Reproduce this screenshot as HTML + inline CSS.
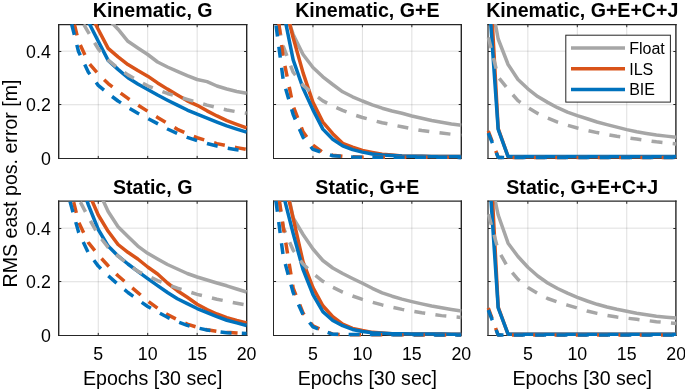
<!DOCTYPE html><html><head><meta charset="utf-8"><style>html,body{margin:0;padding:0;background:#fff;overflow:hidden}svg{display:block}</style></head><body>
<svg width="685" height="391" viewBox="0 0 685 391">
<rect width="685" height="391" fill="#fff"/>
<defs>
<clipPath id="cp00"><rect x="55.7" y="24.0" width="193.9" height="137.9"/></clipPath>
<clipPath id="cp01"><rect x="270.4" y="24.0" width="193.9" height="137.9"/></clipPath>
<clipPath id="cp02"><rect x="485.3" y="24.0" width="193.9" height="137.9"/></clipPath>
<clipPath id="cp10"><rect x="55.7" y="201.0" width="193.9" height="137.9"/></clipPath>
<clipPath id="cp11"><rect x="270.4" y="201.0" width="193.9" height="137.9"/></clipPath>
<clipPath id="cp12"><rect x="485.3" y="201.0" width="193.9" height="137.9"/></clipPath>
</defs>
<path d="M98.26 24.40V158.30M147.71 24.40V158.30M197.15 24.40V158.30" stroke="#262626" stroke-opacity="0.15" stroke-width="1" fill="none"/>
<path d="M58.70 104.74H246.60M58.70 51.18H246.60" stroke="#262626" stroke-opacity="0.15" stroke-width="1" fill="none"/>
<path d="M98.26 158.50v-2.6M98.26 24.60v2.6M147.71 158.50v-2.6M147.71 24.60v2.6M197.15 158.50v-2.6M197.15 24.60v2.6M58.70 104.50h2.6M246.70 104.50h-2.6M58.70 51.50h2.6M246.70 51.50h-2.6" stroke="#262626" stroke-width="1" fill="none"/>
<path d="M58.7 23.950000000000003V159.0" stroke="#262626" stroke-width="1.4" fill="none"/>
<path d="M246.7 23.950000000000003V159.0" stroke="#262626" stroke-width="1.4" fill="none"/>
<path d="M58.0 24.6H247.39999999999998" stroke="#262626" stroke-width="1.3" fill="none"/>
<path d="M58.0 158.5H247.39999999999998" stroke="#262626" stroke-width="1.0" fill="none"/>
<g clip-path="url(#cp00)" fill="none" stroke-width="3.5" stroke-linejoin="round">
<path d="M58.70 -300.00 L68.59 -250.00 L78.48 -200.00 L88.37 -150.00 L98.26 -100.00 L108.15 18.90 L118.04 29.20 L127.93 41.30 L137.82 48.00 L147.71 54.50 L157.59 62.00 L167.48 67.00 L177.37 71.40 L187.26 75.60 L197.15 79.50 L207.04 81.60 L216.93 86.00 L226.82 89.00 L236.71 91.50 L246.60 93.30" stroke="#A6A6A6"/>
<path d="M58.70 -290.02 L68.59 -290.02 L78.48 -290.02 L88.37 9.98 L98.26 29.43 L108.15 48.39 L118.04 56.91 L127.93 64.53 L137.82 70.55 L147.71 76.15 L157.59 82.93 L167.48 89.12 L177.37 94.98 L187.26 100.86 L197.15 105.31 L207.04 110.83 L216.93 115.95 L226.82 120.68 L236.71 124.33 L246.60 127.90" stroke="#D95319"/>
<path d="M58.70 -278.23 L68.59 -278.23 L78.48 -278.23 L88.37 21.77 L98.26 41.33 L108.15 60.40 L118.04 69.33 L127.93 77.77 L137.82 84.01 L147.71 89.46 L157.59 95.06 L167.48 100.22 L177.37 105.13 L187.26 110.04 L197.15 114.22 L207.04 118.13 L216.93 122.03 L226.82 125.93 L236.71 129.09 L246.60 132.20" stroke="#0072BD"/>
<path d="M58.70 -284.53 L68.59 -284.53 L78.48 15.47 L88.37 32.38 L98.26 48.86 L108.15 60.05 L118.04 68.15 L127.93 74.87 L137.82 80.41 L147.71 85.80 L157.59 89.65 L167.48 93.49 L177.37 96.44 L187.26 99.38 L197.15 102.26 L207.04 105.15 L216.93 107.59 L226.82 109.94 L236.71 111.75 L246.60 113.30" stroke="#A6A6A6" stroke-dasharray="11.0 10.3" stroke-dashoffset="20.37"/>
<path d="M58.70 -299.37 L68.59 0.63 L78.48 41.09 L88.37 62.52 L98.26 74.00 L108.15 83.55 L118.04 91.20 L127.93 98.45 L137.82 104.93 L147.71 111.27 L157.59 117.46 L167.48 123.43 L177.37 129.30 L187.26 133.70 L197.15 137.73 L207.04 140.75 L216.93 143.63 L226.82 145.73 L236.71 147.63 L246.60 149.50" stroke="#D95319" stroke-dasharray="11.0 10.3" stroke-dashoffset="15.94"/>
<path d="M58.70 -288.03 L68.59 11.97 L78.48 51.49 L88.37 72.24 L98.26 85.35 L108.15 93.56 L118.04 101.01 L127.93 107.33 L137.82 113.23 L147.71 118.39 L157.59 123.64 L167.48 129.01 L177.37 133.51 L187.26 137.35 L197.15 140.65 L207.04 143.55 L216.93 146.03 L226.82 148.09 L236.71 149.80 L246.60 151.00" stroke="#0072BD" stroke-dasharray="11.0 10.3" stroke-dashoffset="6.66"/>
</g>
<path d="M312.96 24.40V158.30M362.41 24.40V158.30M411.85 24.40V158.30" stroke="#262626" stroke-opacity="0.15" stroke-width="1" fill="none"/>
<path d="M273.40 104.74H461.30M273.40 51.18H461.30" stroke="#262626" stroke-opacity="0.15" stroke-width="1" fill="none"/>
<path d="M312.96 158.50v-2.6M312.96 24.60v2.6M362.41 158.50v-2.6M362.41 24.60v2.6M411.85 158.50v-2.6M411.85 24.60v2.6M273.50 104.50h2.6M461.30 104.50h-2.6M273.50 51.50h2.6M461.30 51.50h-2.6" stroke="#262626" stroke-width="1" fill="none"/>
<path d="M273.5 23.950000000000003V159.0" stroke="#262626" stroke-width="1.0" fill="none"/>
<path d="M461.3 23.950000000000003V159.0" stroke="#262626" stroke-width="1.4" fill="none"/>
<path d="M273.0 24.6H462.0" stroke="#262626" stroke-width="1.3" fill="none"/>
<path d="M273.0 158.5H462.0" stroke="#262626" stroke-width="1.0" fill="none"/>
<g clip-path="url(#cp01)" fill="none" stroke-width="3.5" stroke-linejoin="round">
<path d="M273.40 -300.00 L283.29 5.30 L293.18 34.40 L303.07 54.50 L312.96 67.50 L322.85 76.80 L332.74 84.50 L342.63 91.80 L352.52 96.80 L362.41 101.00 L372.29 104.80 L382.18 108.20 L392.07 111.00 L401.96 113.30 L411.85 116.00 L421.74 118.30 L431.63 120.50 L441.52 122.30 L451.41 124.00 L461.30 125.30" stroke="#A6A6A6"/>
<path d="M273.40 -301.35 L283.29 -1.35 L293.18 37.77 L303.07 72.88 L312.96 102.38 L322.85 122.10 L332.74 133.71 L342.63 143.35 L352.52 147.23 L362.41 150.51 L372.29 152.42 L382.18 154.12 L392.07 155.11 L401.96 155.94 L411.85 156.14 L421.74 156.33 L431.63 156.51 L441.52 156.54 L451.41 156.57 L461.30 156.60" stroke="#D95319"/>
<path d="M273.40 -289.00 L283.29 11.00 L293.18 59.90 L303.07 88.27 L312.96 109.87 L322.85 129.11 L332.74 139.29 L342.63 145.92 L352.52 149.65 L362.41 152.12 L372.29 153.91 L382.18 154.93 L392.07 155.52 L401.96 156.03 L411.85 156.20 L421.74 156.36 L431.63 156.51 L441.52 156.54 L451.41 156.57 L461.30 156.60" stroke="#0072BD"/>
<path d="M273.40 1.86 L283.29 46.44 L293.18 72.28 L303.07 85.34 L312.96 93.50 L322.85 100.83 L332.74 106.00 L342.63 110.44 L352.52 114.27 L362.41 117.49 L372.29 120.21 L382.18 122.74 L392.07 124.76 L401.96 126.79 L411.85 128.69 L421.74 130.57 L431.63 131.89 L441.52 133.04 L451.41 134.24 L461.30 135.47" stroke="#A6A6A6" stroke-dasharray="11.0 10.3" stroke-dashoffset="19.06"/>
<path d="M273.40 -19.38 L283.29 57.93 L293.18 106.10 L303.07 131.91 L312.96 145.21 L322.85 152.47 L332.74 155.25 L342.63 156.26 L352.52 156.83 L362.41 157.21 L372.29 157.23 L382.18 157.25 L392.07 157.26 L401.96 157.28 L411.85 157.30 L421.74 157.32 L431.63 157.34 L441.52 157.36 L451.41 157.38 L461.30 157.40" stroke="#D95319" stroke-dasharray="11.0 10.3" stroke-dashoffset="20.39"/>
<path d="M273.40 5.40 L283.29 80.56 L293.18 114.58 L303.07 137.30 L312.96 149.45 L322.85 152.58 L332.74 155.72 L342.63 156.40 L352.52 157.03 L362.41 157.21 L372.29 157.23 L382.18 157.25 L392.07 157.27 L401.96 157.29 L411.85 157.31 L421.74 157.33 L431.63 157.34 L441.52 157.36 L451.41 157.38 L461.30 157.40" stroke="#0072BD" stroke-dasharray="11.0 10.3" stroke-dashoffset="0.91"/>
</g>
<path d="M527.86 24.40V158.30M577.31 24.40V158.30M626.75 24.40V158.30" stroke="#262626" stroke-opacity="0.15" stroke-width="1" fill="none"/>
<path d="M488.30 104.74H676.20M488.30 51.18H676.20" stroke="#262626" stroke-opacity="0.15" stroke-width="1" fill="none"/>
<path d="M527.86 158.50v-2.6M527.86 24.60v2.6M577.31 158.50v-2.6M577.31 24.60v2.6M626.75 158.50v-2.6M626.75 24.60v2.6M488.00 104.50h2.6M675.90 104.50h-2.6M488.00 51.50h2.6M675.90 51.50h-2.6" stroke="#262626" stroke-width="1" fill="none"/>
<path d="M488.0 23.950000000000003V159.0" stroke="#262626" stroke-width="1.2" fill="none"/>
<path d="M675.9 23.950000000000003V159.0" stroke="#262626" stroke-width="1.4" fill="none"/>
<path d="M487.4 24.6H676.6" stroke="#262626" stroke-width="1.3" fill="none"/>
<path d="M487.4 158.5H676.6" stroke="#262626" stroke-width="1.0" fill="none"/>
<g clip-path="url(#cp02)" fill="none" stroke-width="3.5" stroke-linejoin="round">
<path d="M488.30 -13.50 L498.19 39.00 L508.08 64.50 L517.97 79.50 L527.86 88.83 L537.75 96.53 L547.64 102.37 L557.53 107.71 L567.42 112.04 L577.31 115.54 L587.19 118.75 L597.08 122.00 L606.97 124.65 L616.86 127.14 L626.75 129.61 L636.64 131.82 L646.53 133.46 L656.42 134.98 L666.31 136.13 L676.20 137.28" stroke="#A6A6A6"/>
<path d="M488.30 -49.00 L498.19 128.50 L508.08 156.70 L517.97 156.70 L527.86 156.70 L537.75 156.70 L547.64 156.70 L557.53 156.70 L567.42 156.70 L577.31 156.70 L587.19 156.70 L597.08 156.70 L606.97 156.70 L616.86 156.70 L626.75 156.70 L636.64 156.70 L646.53 156.70 L656.42 156.70 L666.31 156.70 L676.20 156.70" stroke="#D95319"/>
<path d="M488.30 -11.30 L498.19 129.50 L508.08 156.60 L517.97 156.60 L527.86 156.60 L537.75 156.60 L547.64 156.60 L557.53 156.60 L567.42 156.60 L577.31 156.60 L587.19 156.60 L597.08 156.60 L606.97 156.60 L616.86 156.60 L626.75 156.60 L636.64 156.60 L646.53 156.60 L656.42 156.60 L666.31 156.60 L676.20 156.60" stroke="#0072BD"/>
<path d="M488.30 37.00 L498.19 77.00 L508.08 89.26 L517.97 100.65 L527.86 107.59 L537.75 113.45 L547.64 118.15 L557.53 122.10 L567.42 125.23 L577.31 128.03 L587.19 130.38 L597.08 132.59 L606.97 134.49 L616.86 136.29 L626.75 137.69 L636.64 139.09 L646.53 140.47 L656.42 141.85 L666.31 142.93 L676.20 143.98" stroke="#A6A6A6" stroke-dasharray="11.0 10.3" stroke-dashoffset="20.99"/>
<path d="M488.30 131.00 L498.19 157.40 L508.08 157.40 L517.97 157.40 L527.86 157.40 L537.75 157.40 L547.64 157.40 L557.53 157.40 L567.42 157.40 L577.31 157.40 L587.19 157.40 L597.08 157.40 L606.97 157.40 L616.86 157.40 L626.75 157.40 L636.64 157.40 L646.53 157.40 L656.42 157.40 L666.31 157.40 L676.20 157.40" stroke="#D95319" stroke-dasharray="11.0 10.3" stroke-dashoffset="0"/>
<path d="M488.30 133.00 L498.19 157.40 L508.08 157.40 L517.97 157.40 L527.86 157.40 L537.75 157.40 L547.64 157.40 L557.53 157.40 L567.42 157.40 L577.31 157.40 L587.19 157.40 L597.08 157.40 L606.97 157.40 L616.86 157.40 L626.75 157.40 L636.64 157.40 L646.53 157.40 L656.42 157.40 L666.31 157.40 L676.20 157.40" stroke="#0072BD" stroke-dasharray="11.0 10.3" stroke-dashoffset="0"/>
</g>
<path d="M98.26 201.40V335.30M147.71 201.40V335.30M197.15 201.40V335.30" stroke="#262626" stroke-opacity="0.15" stroke-width="1" fill="none"/>
<path d="M58.70 281.74H246.60M58.70 228.18H246.60" stroke="#262626" stroke-opacity="0.15" stroke-width="1" fill="none"/>
<path d="M98.26 335.50v-2.6M98.26 201.20v2.6M147.71 335.50v-2.6M147.71 201.20v2.6M197.15 335.50v-2.6M197.15 201.20v2.6M58.70 281.50h2.6M246.70 281.50h-2.6M58.70 228.50h2.6M246.70 228.50h-2.6" stroke="#262626" stroke-width="1" fill="none"/>
<path d="M58.7 200.54999999999998V336.0" stroke="#262626" stroke-width="1.4" fill="none"/>
<path d="M246.7 200.54999999999998V336.0" stroke="#262626" stroke-width="1.4" fill="none"/>
<path d="M58.0 201.2H247.39999999999998" stroke="#262626" stroke-width="1.3" fill="none"/>
<path d="M58.0 335.5H247.39999999999998" stroke="#262626" stroke-width="1.0" fill="none"/>
<g clip-path="url(#cp10)" fill="none" stroke-width="3.5" stroke-linejoin="round">
<path d="M58.70 -300.00 L68.59 -250.00 L78.48 -200.00 L88.37 -150.00 L98.26 190.00 L108.15 211.50 L118.04 226.80 L127.93 236.60 L137.82 246.10 L147.71 253.30 L157.59 259.00 L167.48 264.50 L177.37 269.00 L187.26 273.50 L197.15 277.00 L207.04 280.00 L216.93 283.00 L226.82 285.80 L236.71 289.00 L246.60 292.00" stroke="#A6A6A6"/>
<path d="M58.70 -300.00 L68.59 -250.00 L78.48 -200.00 L88.37 192.40 L98.26 215.00 L108.15 231.30 L118.04 244.50 L127.93 252.30 L137.82 259.00 L147.71 267.00 L157.59 274.00 L167.48 283.00 L177.37 290.70 L187.26 297.30 L197.15 304.30 L207.04 309.50 L216.93 314.00 L226.82 317.60 L236.71 320.50 L246.60 322.90" stroke="#D95319"/>
<path d="M58.70 -124.51 L68.59 -124.51 L78.48 175.49 L88.37 204.87 L98.26 229.51 L108.15 246.05 L118.04 255.94 L127.93 263.99 L137.82 271.38 L147.71 278.57 L157.59 285.59 L167.48 292.46 L177.37 298.73 L187.26 303.65 L197.15 308.53 L207.04 312.57 L216.93 316.61 L226.82 320.25 L236.71 322.87 L246.60 325.50" stroke="#0072BD"/>
<path d="M58.70 -101.50 L68.59 -101.50 L78.48 198.50 L88.37 217.33 L98.26 234.81 L108.15 247.36 L118.04 256.13 L127.93 263.97 L137.82 271.38 L147.71 275.99 L157.59 280.51 L167.48 284.37 L177.37 288.13 L187.26 291.25 L197.15 294.34 L207.04 296.79 L216.93 299.23 L226.82 301.23 L236.71 303.22 L246.60 305.00" stroke="#A6A6A6" stroke-dasharray="11.0 10.3" stroke-dashoffset="5.38"/>
<path d="M58.70 -118.76 L68.59 181.24 L78.48 221.84 L88.37 242.61 L98.26 255.01 L108.15 265.77 L118.04 275.73 L127.93 284.28 L137.82 292.62 L147.71 300.90 L157.59 308.15 L167.48 314.60 L177.37 319.67 L187.26 324.16 L197.15 327.23 L207.04 329.77 L216.93 331.26 L226.82 332.25 L236.71 332.98 L246.60 333.50" stroke="#D95319" stroke-dasharray="11.0 10.3" stroke-dashoffset="19.11"/>
<path d="M58.70 -103.67 L68.59 196.33 L78.48 231.89 L88.37 252.87 L98.26 266.11 L108.15 275.74 L118.04 284.43 L127.93 292.50 L137.82 299.62 L147.71 306.50 L157.59 312.09 L167.48 317.30 L177.37 321.62 L187.26 325.36 L197.15 327.81 L207.04 330.02 L216.93 331.43 L226.82 332.74 L236.71 333.12 L246.60 333.50" stroke="#0072BD" stroke-dasharray="11.0 10.3" stroke-dashoffset="13.87"/>
</g>
<path d="M312.96 201.40V335.30M362.41 201.40V335.30M411.85 201.40V335.30" stroke="#262626" stroke-opacity="0.15" stroke-width="1" fill="none"/>
<path d="M273.40 281.74H461.30M273.40 228.18H461.30" stroke="#262626" stroke-opacity="0.15" stroke-width="1" fill="none"/>
<path d="M312.96 335.50v-2.6M312.96 201.20v2.6M362.41 335.50v-2.6M362.41 201.20v2.6M411.85 335.50v-2.6M411.85 201.20v2.6M273.50 281.50h2.6M461.30 281.50h-2.6M273.50 228.50h2.6M461.30 228.50h-2.6" stroke="#262626" stroke-width="1" fill="none"/>
<path d="M273.5 200.54999999999998V336.0" stroke="#262626" stroke-width="1.0" fill="none"/>
<path d="M461.3 200.54999999999998V336.0" stroke="#262626" stroke-width="1.4" fill="none"/>
<path d="M273.0 201.2H462.0" stroke="#262626" stroke-width="1.3" fill="none"/>
<path d="M273.0 335.5H462.0" stroke="#262626" stroke-width="1.0" fill="none"/>
<g clip-path="url(#cp11)" fill="none" stroke-width="3.5" stroke-linejoin="round">
<path d="M273.40 -300.00 L283.29 170.00 L293.18 218.00 L303.07 234.50 L312.96 249.00 L322.85 260.50 L332.74 268.00 L342.63 273.50 L352.52 278.50 L362.41 283.30 L372.29 288.30 L382.18 292.80 L392.07 296.20 L401.96 299.10 L411.85 301.60 L421.74 303.90 L431.63 306.00 L441.52 307.80 L451.41 309.40 L461.30 310.90" stroke="#A6A6A6"/>
<path d="M273.40 -125.06 L283.29 174.94 L293.18 218.48 L303.07 261.91 L312.96 287.61 L322.85 305.75 L332.74 316.74 L342.63 324.22 L352.52 328.36 L362.41 330.54 L372.29 332.36 L382.18 333.05 L392.07 333.63 L401.96 333.76 L411.85 333.89 L421.74 334.01 L431.63 334.06 L441.52 334.10 L451.41 334.15 L461.30 334.20" stroke="#D95319"/>
<path d="M273.40 -105.34 L283.29 194.66 L293.18 233.64 L303.07 269.72 L312.96 294.50 L322.85 311.63 L332.74 320.53 L342.63 325.73 L352.52 329.47 L362.41 331.47 L372.29 332.80 L382.18 333.24 L392.07 333.63 L401.96 333.76 L411.85 333.89 L421.74 334.01 L431.63 334.06 L441.52 334.10 L451.41 334.15 L461.30 334.20" stroke="#0072BD"/>
<path d="M273.40 167.28 L283.29 227.54 L293.18 250.32 L303.07 264.04 L312.96 273.49 L322.85 281.32 L332.74 287.29 L342.63 292.08 L352.52 296.02 L362.41 299.42 L372.29 302.29 L382.18 304.93 L392.07 307.23 L401.96 309.36 L411.85 311.12 L421.74 312.82 L431.63 314.23 L441.52 315.63 L451.41 316.56 L461.30 317.48" stroke="#A6A6A6" stroke-dasharray="11.0 10.3" stroke-dashoffset="8.16"/>
<path d="M273.40 159.52 L283.29 227.42 L293.18 288.18 L303.07 313.17 L312.96 325.86 L322.85 330.47 L332.74 334.13 L342.63 334.63 L352.52 334.67 L362.41 334.71 L372.29 334.75 L382.18 334.79 L392.07 334.83 L401.96 334.87 L411.85 334.91 L421.74 334.94 L431.63 334.98 L441.52 335.02 L451.41 335.06 L461.30 335.10" stroke="#D95319" stroke-dasharray="11.0 10.3" stroke-dashoffset="1.15"/>
<path d="M273.40 181.70 L283.29 256.64 L293.18 292.65 L303.07 314.68 L312.96 326.82 L322.85 330.67 L332.74 334.30 L342.63 334.36 L352.52 334.43 L362.41 334.49 L372.29 334.55 L382.18 334.61 L392.07 334.67 L401.96 334.73 L411.85 334.79 L421.74 334.85 L431.63 334.92 L441.52 334.98 L451.41 335.04 L461.30 335.10" stroke="#0072BD" stroke-dasharray="11.0 10.3" stroke-dashoffset="1.91"/>
</g>
<path d="M527.86 201.40V335.30M577.31 201.40V335.30M626.75 201.40V335.30" stroke="#262626" stroke-opacity="0.15" stroke-width="1" fill="none"/>
<path d="M488.30 281.74H676.20M488.30 228.18H676.20" stroke="#262626" stroke-opacity="0.15" stroke-width="1" fill="none"/>
<path d="M527.86 335.50v-2.6M527.86 201.20v2.6M577.31 335.50v-2.6M577.31 201.20v2.6M626.75 335.50v-2.6M626.75 201.20v2.6M488.00 281.50h2.6M675.90 281.50h-2.6M488.00 228.50h2.6M675.90 228.50h-2.6" stroke="#262626" stroke-width="1" fill="none"/>
<path d="M488.0 200.54999999999998V336.0" stroke="#262626" stroke-width="1.2" fill="none"/>
<path d="M675.9 200.54999999999998V336.0" stroke="#262626" stroke-width="1.4" fill="none"/>
<path d="M487.4 201.2H676.6" stroke="#262626" stroke-width="1.3" fill="none"/>
<path d="M487.4 335.5H676.6" stroke="#262626" stroke-width="1.0" fill="none"/>
<g clip-path="url(#cp12)" fill="none" stroke-width="3.5" stroke-linejoin="round">
<path d="M488.30 168.50 L498.19 215.00 L508.08 243.20 L517.97 256.50 L527.86 267.20 L537.75 276.00 L547.64 283.00 L557.53 288.50 L567.42 293.20 L577.31 297.30 L587.19 301.00 L597.08 304.30 L606.97 307.00 L616.86 309.30 L626.75 311.30 L636.64 313.20 L646.53 314.80 L656.42 316.30 L666.31 317.30 L676.20 318.10" stroke="#A6A6A6"/>
<path d="M488.30 120.00 L498.19 307.00 L508.08 334.30 L517.97 334.30 L527.86 334.30 L537.75 334.30 L547.64 334.30 L557.53 334.30 L567.42 334.30 L577.31 334.30 L587.19 334.30 L597.08 334.30 L606.97 334.30 L616.86 334.30 L626.75 334.30 L636.64 334.30 L646.53 334.30 L656.42 334.30 L666.31 334.30 L676.20 334.30" stroke="#D95319"/>
<path d="M488.30 159.40 L498.19 308.00 L508.08 334.20 L517.97 334.20 L527.86 334.20 L537.75 334.20 L547.64 334.20 L557.53 334.20 L567.42 334.20 L577.31 334.20 L587.19 334.20 L597.08 334.20 L606.97 334.20 L616.86 334.20 L626.75 334.20 L636.64 334.20 L646.53 334.20 L656.42 334.20 L666.31 334.20 L676.20 334.20" stroke="#0072BD"/>
<path d="M488.30 213.50 L498.19 250.17 L508.08 267.80 L517.97 279.36 L527.86 287.48 L537.75 293.54 L547.64 298.51 L557.53 302.03 L567.42 305.05 L577.31 308.03 L587.19 311.01 L597.08 313.40 L606.97 315.34 L616.86 316.97 L626.75 318.15 L636.64 319.33 L646.53 320.50 L656.42 321.66 L666.31 322.57 L676.20 323.48" stroke="#A6A6A6" stroke-dasharray="11.0 10.3" stroke-dashoffset="20.55"/>
<path d="M488.30 308.00 L498.19 335.10 L508.08 335.10 L517.97 335.10 L527.86 335.10 L537.75 335.10 L547.64 335.10 L557.53 335.10 L567.42 335.10 L577.31 335.10 L587.19 335.10 L597.08 335.10 L606.97 335.10 L616.86 335.10 L626.75 335.10 L636.64 335.10 L646.53 335.10 L656.42 335.10 L666.31 335.10 L676.20 335.10" stroke="#D95319" stroke-dasharray="11.0 10.3" stroke-dashoffset="0"/>
<path d="M488.30 310.00 L498.19 335.10 L508.08 335.10 L517.97 335.10 L527.86 335.10 L537.75 335.10 L547.64 335.10 L557.53 335.10 L567.42 335.10 L577.31 335.10 L587.19 335.10 L597.08 335.10 L606.97 335.10 L616.86 335.10 L626.75 335.10 L636.64 335.10 L646.53 335.10 L656.42 335.10 L666.31 335.10 L676.20 335.10" stroke="#0072BD" stroke-dasharray="11.0 10.3" stroke-dashoffset="0"/>
</g>
<rect x="565.8" y="35.2" width="104.6" height="66.9" fill="#fff" stroke="#262626" stroke-width="1"/>
<path d="M571 47.90H625" stroke="#A6A6A6" stroke-width="3.5"/>
<path d="M571 68.70H625" stroke="#D95319" stroke-width="3.5"/>
<path d="M571 89.50H625" stroke="#0072BD" stroke-width="3.5"/>
<g style="will-change:transform">
<text x="152.65" y="16.90" text-anchor="middle" style="font-family:'Liberation Sans',sans-serif;font-size:19.6px;font-weight:bold" fill="#000">Kinematic, G</text>
<text x="50.80" y="165.00" text-anchor="end" style="font-family:'Liberation Sans',sans-serif;font-size:17.8px" fill="#000">0</text>
<text x="50.80" y="111.44" text-anchor="end" style="font-family:'Liberation Sans',sans-serif;font-size:17.8px" fill="#000">0.2</text>
<text x="50.80" y="57.88" text-anchor="end" style="font-family:'Liberation Sans',sans-serif;font-size:17.8px" fill="#000">0.4</text>
<text x="367.35" y="16.90" text-anchor="middle" style="font-family:'Liberation Sans',sans-serif;font-size:19.6px;font-weight:bold" fill="#000">Kinematic, G+E</text>
<text x="582.25" y="16.90" text-anchor="middle" style="font-family:'Liberation Sans',sans-serif;font-size:19.6px;font-weight:bold" fill="#000">Kinematic, G+E+C+J</text>
<text x="152.65" y="193.90" text-anchor="middle" style="font-family:'Liberation Sans',sans-serif;font-size:19.6px;font-weight:bold" fill="#000">Static, G</text>
<text x="50.80" y="342.00" text-anchor="end" style="font-family:'Liberation Sans',sans-serif;font-size:17.8px" fill="#000">0</text>
<text x="50.80" y="288.44" text-anchor="end" style="font-family:'Liberation Sans',sans-serif;font-size:17.8px" fill="#000">0.2</text>
<text x="50.80" y="234.88" text-anchor="end" style="font-family:'Liberation Sans',sans-serif;font-size:17.8px" fill="#000">0.4</text>
<text x="98.26" y="359.90" text-anchor="middle" style="font-family:'Liberation Sans',sans-serif;font-size:17.8px" fill="#000">5</text>
<text x="147.71" y="359.90" text-anchor="middle" style="font-family:'Liberation Sans',sans-serif;font-size:17.8px" fill="#000">10</text>
<text x="197.15" y="359.90" text-anchor="middle" style="font-family:'Liberation Sans',sans-serif;font-size:17.8px" fill="#000">15</text>
<text x="246.60" y="359.90" text-anchor="middle" style="font-family:'Liberation Sans',sans-serif;font-size:17.8px" fill="#000">20</text>
<text x="152.65" y="384.50" text-anchor="middle" style="font-family:'Liberation Sans',sans-serif;font-size:19.6px" fill="#000">Epochs [30 sec]</text>
<text x="367.35" y="193.90" text-anchor="middle" style="font-family:'Liberation Sans',sans-serif;font-size:19.6px;font-weight:bold" fill="#000">Static, G+E</text>
<text x="312.96" y="359.90" text-anchor="middle" style="font-family:'Liberation Sans',sans-serif;font-size:17.8px" fill="#000">5</text>
<text x="362.41" y="359.90" text-anchor="middle" style="font-family:'Liberation Sans',sans-serif;font-size:17.8px" fill="#000">10</text>
<text x="411.85" y="359.90" text-anchor="middle" style="font-family:'Liberation Sans',sans-serif;font-size:17.8px" fill="#000">15</text>
<text x="461.30" y="359.90" text-anchor="middle" style="font-family:'Liberation Sans',sans-serif;font-size:17.8px" fill="#000">20</text>
<text x="367.35" y="384.50" text-anchor="middle" style="font-family:'Liberation Sans',sans-serif;font-size:19.6px" fill="#000">Epochs [30 sec]</text>
<text x="582.25" y="193.90" text-anchor="middle" style="font-family:'Liberation Sans',sans-serif;font-size:19.6px;font-weight:bold" fill="#000">Static, G+E+C+J</text>
<text x="527.86" y="359.90" text-anchor="middle" style="font-family:'Liberation Sans',sans-serif;font-size:17.8px" fill="#000">5</text>
<text x="577.31" y="359.90" text-anchor="middle" style="font-family:'Liberation Sans',sans-serif;font-size:17.8px" fill="#000">10</text>
<text x="626.75" y="359.90" text-anchor="middle" style="font-family:'Liberation Sans',sans-serif;font-size:17.8px" fill="#000">15</text>
<text x="676.20" y="359.90" text-anchor="middle" style="font-family:'Liberation Sans',sans-serif;font-size:17.8px" fill="#000">20</text>
<text x="582.25" y="384.50" text-anchor="middle" style="font-family:'Liberation Sans',sans-serif;font-size:19.6px" fill="#000">Epochs [30 sec]</text>
<text transform="translate(16.9 183.5) rotate(-90)" text-anchor="middle" style="font-family:'Liberation Sans',sans-serif;font-size:19.6px" fill="#000">RMS east pos. error [m]</text>
<text x="629.2" y="53.70" style="font-family:'Liberation Sans',sans-serif;font-size:16px" fill="#000">Float</text>
<text x="629.2" y="74.50" style="font-family:'Liberation Sans',sans-serif;font-size:16px" fill="#000">ILS</text>
<text x="629.2" y="95.30" style="font-family:'Liberation Sans',sans-serif;font-size:16px" fill="#000">BIE</text>
</g>
</svg></body></html>
